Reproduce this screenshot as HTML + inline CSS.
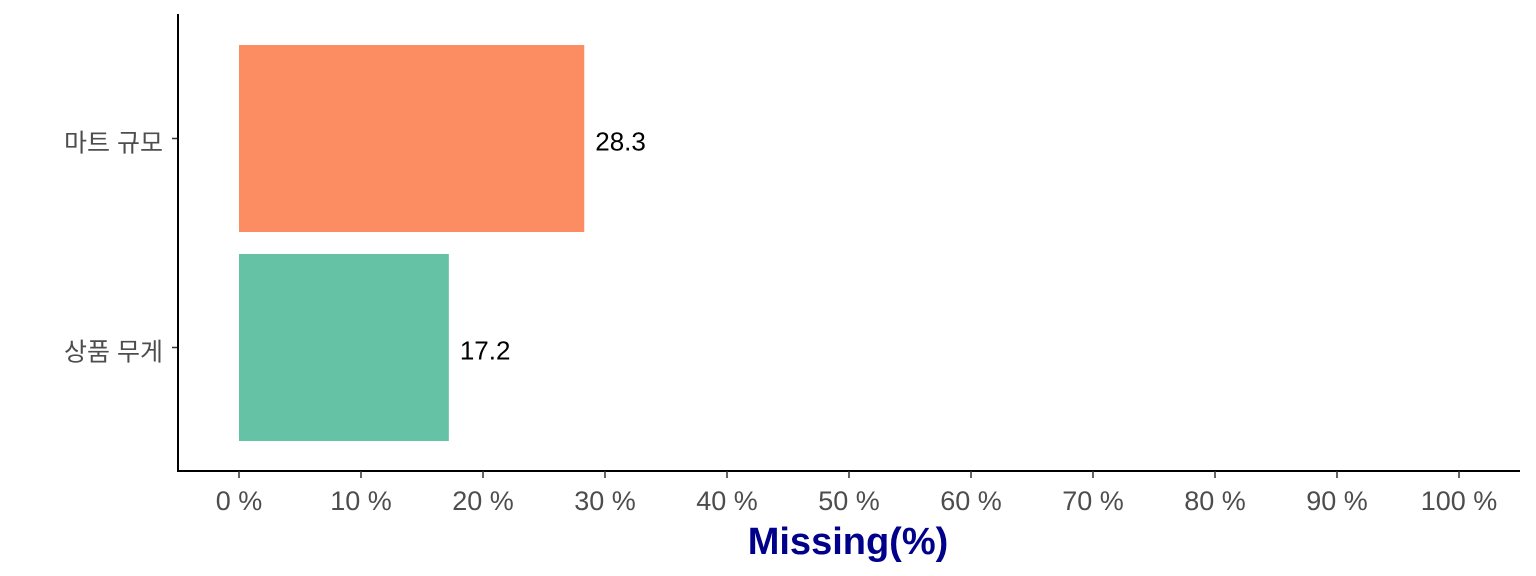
<!DOCTYPE html>
<html><head><meta charset="utf-8"><style>
body{margin:0;background:#fff}
svg{display:block}
</style></head><body>
<svg id="chart" width="1536" height="576" xmlns="http://www.w3.org/2000/svg" font-family="Liberation Sans, Noto Sans CJK KR, sans-serif"></svg>
<script>
const categories = ["마트 규모", "상품 무게"];
const values = [28.3, 17.2];
const colors = ["#FC8D62", "#66C2A5"];
const ticks = [0,10,20,30,40,50,60,70,80,90,100];
const tickLabels = ["0 %","10 %","20 %","30 %","40 %","50 %","60 %","70 %","80 %","90 %","100 %"];

const svg = document.getElementById('chart');
const NS = 'http://www.w3.org/2000/svg';
const x = v => 239 + v * 12.2;
const bandTop = i => 45 + i * 209;
const bandH = 187;
function mk(tag, attrs, txt){
  const e = document.createElementNS(NS, tag);
  for (const k in attrs) e.setAttribute(k, attrs[k]);
  if (txt !== undefined) e.textContent = txt;
  svg.appendChild(e);
  return e;
}
categories.forEach((c,i)=>{
  const r = mk('rect',{x:x(0),y:bandTop(i),width:x(values[i])-x(0),height:bandH,fill:colors[i]});
  
  
  const t = mk('text',{x:x(values[i])+11,y:bandTop(i)+bandH/2+12,'font-size':26,fill:'#000'}, values[i].toFixed(1));
  
  
  const l = mk('text',{x:163,y:bandTop(i)+bandH/2+13,'font-size':25,fill:'#4d4d4d','text-anchor':'end'}, c);
  
  
  const tk = mk('line',{x1:172,x2:178,y1:bandTop(i)+bandH/2,y2:bandTop(i)+bandH/2,stroke:'#333','stroke-width':1.5});
  
  
});
const ya = mk('line',{x1:178,x2:178,y1:14,y2:472,stroke:'#000','stroke-width':2});


const xa = mk('line',{x1:177,x2:1520,y1:471,y2:471,stroke:'#000','stroke-width':2});


ticks.forEach((v,i)=>{
  const tk = mk('line',{x1:x(v),x2:x(v),y1:471,y2:478,stroke:'#333','stroke-width':1.5});
  
  
  const t = mk('text',{x:x(v),y:510,'font-size':27,fill:'#4d4d4d','text-anchor':'middle'}, tickLabels[i]);
  
  
});
const title = mk('text',{x:848,y:554,'font-size':38,'font-weight':'bold',fill:'#00008B','text-anchor':'middle'}, 'Missing(%)');


</script>
</body></html>
